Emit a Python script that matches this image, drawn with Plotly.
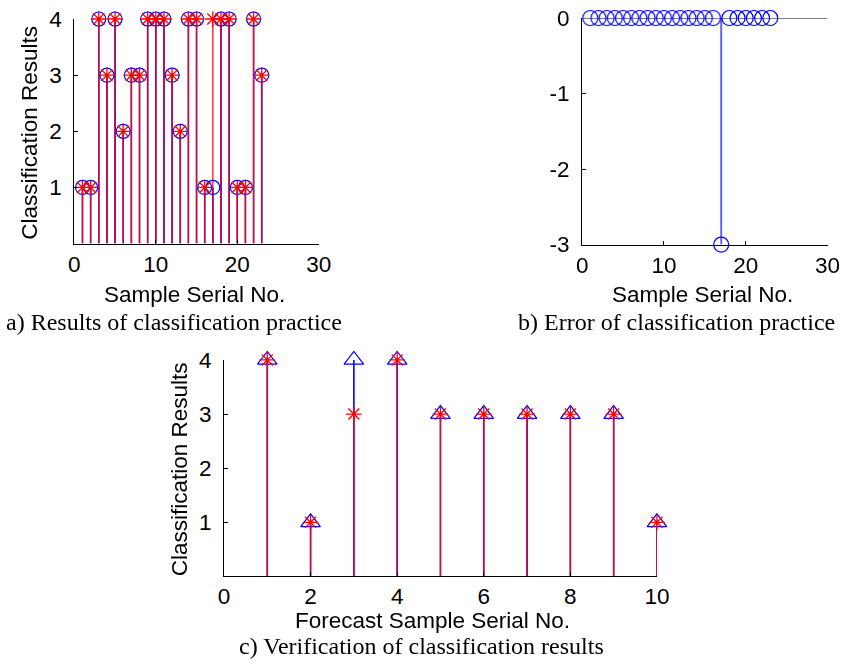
import plotly.graph_objects as go

# ---- data ----
train_idx = list(range(1, 24))
train_actual = [1, 1, 4, 3, 4, 2, 3, 3, 4, 4, 4, 3, 2, 4, 4, 1, 1, 4, 4, 1, 1, 4, 3]
train_pred   = [1, 1, 4, 3, 4, 2, 3, 3, 4, 4, 4, 3, 2, 4, 4, 1, 4, 4, 4, 1, 1, 4, 3]
train_error  = [a - p for a, p in zip(train_actual, train_pred)]

test_idx = list(range(1, 11))
test_actual = [4, 1, 4, 4, 3, 3, 3, 3, 3, 1]
test_pred   = [4, 1, 3, 4, 3, 3, 3, 3, 3, 1]

xticks_ab = [0, 10, 20, 30]
yticks_a = [1, 2, 3, 4]
yticks_b = [0, -1, -2, -3]
yticks_b_text = ["0", "-1", "-2", "-3"]
xticks_c = [0, 2, 4, 6, 8, 10]

BLUE = "#0000ff"
RED = "#ff0000"
TICKFONT = dict(family="Liberation Sans, Arial", size=22.5, color="black")
TITLEFONT = dict(family="Liberation Sans, Arial", size=22.5, color="black")
CAPFONT = dict(family="Liberation Serif, Times New Roman", size=24, color="black")

W, H = 851, 666

# the photographed picture shows the page slightly inset; map wanted picture pixels to page pixels
SX, OX, SY, OY = 0.98, 4.5, 0.96, 12.0


def page_x(px):
    return min(max((px - OX) / SX, 0), W)


def page_y(py):
    return min(max((py - OY) / SY, 0), H)


def px_x(a, b):
    return [page_x(a) / W, page_x(b) / W]


def px_y(top, bottom):
    return [(H - page_y(bottom)) / H, (H - page_y(top)) / H]


def stems(xs, ys, base=0):
    sx, sy = [], []
    for x, y in zip(xs, ys):
        sx += [x, x, None]
        sy += [base, y, None]
    return sx, sy


fig = go.Figure()

# ---- panel a ----
sx, sy = stems(train_idx, train_actual)
fig.add_trace(go.Scatter(x=sx, y=sy, mode="lines", line=dict(color=BLUE, width=1.6),
                         xaxis="x", yaxis="y", showlegend=False, hoverinfo="skip"))
sx, sy = stems(train_idx, train_pred)
fig.add_trace(go.Scatter(x=sx, y=sy, mode="lines", line=dict(color=RED, width=1.2),
                         xaxis="x", yaxis="y", showlegend=False, hoverinfo="skip"))
fig.add_trace(go.Scatter(x=train_idx, y=train_actual, mode="markers", cliponaxis=False,
                         marker=dict(symbol="circle-open", size=14, color=BLUE, line=dict(width=1.2)),
                         xaxis="x", yaxis="y", showlegend=False))
fig.add_trace(go.Scatter(x=train_idx, y=train_pred, mode="markers", cliponaxis=False,
                         marker=dict(symbol="asterisk-open", size=13, color=RED, line=dict(width=1.3, color=RED)),
                         xaxis="x", yaxis="y", showlegend=False))

# ---- panel b ----
fig.add_trace(go.Scatter(x=[0, 30], y=[0, 0], mode="lines", line=dict(color="black", width=1),
                         xaxis="x2", yaxis="y2", showlegend=False, hoverinfo="skip"))
sx, sy = stems(train_idx, train_error)
fig.add_trace(go.Scatter(x=sx, y=sy, mode="lines", line=dict(color=BLUE, width=1.6), opacity=0.75,
                         xaxis="x2", yaxis="y2", showlegend=False, hoverinfo="skip"))
fig.add_trace(go.Scatter(x=train_idx, y=train_error, mode="markers", cliponaxis=False,
                         marker=dict(symbol="circle-open", size=15, color=BLUE, line=dict(width=1.2)),
                         xaxis="x2", yaxis="y2", showlegend=False))

# ---- panel c ----
sx, sy = stems(test_idx, test_actual)
fig.add_trace(go.Scatter(x=sx, y=sy, mode="lines", line=dict(color=BLUE, width=1.6),
                         xaxis="x3", yaxis="y3", showlegend=False, hoverinfo="skip"))
sx, sy = stems(test_idx, test_pred)
fig.add_trace(go.Scatter(x=sx, y=sy, mode="lines", line=dict(color=RED, width=1.2),
                         xaxis="x3", yaxis="y3", showlegend=False, hoverinfo="skip"))
fig.add_trace(go.Scatter(x=test_idx, y=test_actual, mode="markers", cliponaxis=False,
                         marker=dict(symbol="triangle-up-open", size=17, color=BLUE, line=dict(width=1.2)),
                         xaxis="x3", yaxis="y3", showlegend=False))
fig.add_trace(go.Scatter(x=test_idx, y=test_pred, mode="markers", cliponaxis=False,
                         marker=dict(symbol="asterisk-open", size=13, color=RED, line=dict(width=1.3, color=RED)),
                         xaxis="x3", yaxis="y3", showlegend=False))

axis_common = dict(showline=True, linecolor="black", linewidth=1, ticks="inside", ticklen=4,
                   tickcolor="black", showgrid=False, zeroline=False, tickfont=TICKFONT)
xax = dict(axis_common, ticklabelstandoff=0)
yax = dict(axis_common, ticklabelstandoff=7)

fig.update_layout(
    width=W, height=H, autosize=False,
    margin=dict(l=0, r=0, t=0, b=0),
    paper_bgcolor="white", plot_bgcolor="white",
    xaxis=dict(domain=px_x(73, 318), range=[0, 30], tickvals=xticks_ab, anchor="y", **xax),
    yaxis=dict(domain=px_y(19, 243), range=[0, 4], tickvals=yticks_a, anchor="x", **yax),
    xaxis2=dict(domain=px_x(582, 828), range=[0, 30], tickvals=xticks_ab, anchor="y2", **xax),
    yaxis2=dict(domain=px_y(18, 244), range=[-3, 0], tickvals=yticks_b,
                ticktext=yticks_b_text, anchor="x2", **yax),
    xaxis3=dict(domain=px_x(223, 657), range=[0, 10], tickvals=xticks_c, anchor="y3", **xax),
    yaxis3=dict(domain=px_y(359, 575), range=[0, 4], tickvals=yticks_a, anchor="x3", **yax),
)

# (text, wanted picture x, wanted picture y, font, extra)
annots = [
    ("Sample Serial No.", 193, 294, TITLEFONT, {}),
    ("Sample Serial No.", 703, 294, TITLEFONT, {}),
    ("Classification Results", 28, 132, TITLEFONT, dict(textangle=-90)),
    ("Classification Results", 178, 468, TITLEFONT, dict(textangle=-90)),
    ("Forecast Sample Serial No.", 432, 619, TITLEFONT, {}),
    ("a) Results of classification practice", 173, 321, CAPFONT, {}),
]
for text, ax_, ay_, font, extra in annots:
    fig.add_annotation(text=text, x=page_x(ax_) / W, y=(H - page_y(ay_)) / H, font=font,
                       xref="paper", yref="paper", showarrow=False,
                       xanchor="center", yanchor="middle", **extra)

# captions that would fall past the page edge are anchored to it
fig.add_annotation(text="b) Error of classification practice", x=850 / W, y=(H - page_y(321)) / H,
                   font=CAPFONT, xref="paper", yref="paper", showarrow=False,
                   xanchor="right", yanchor="middle")
fig.add_annotation(text="c) Verification of classification results", x=page_x(421) / W, y=(H - 658.5) / H,
                   font=CAPFONT, xref="paper", yref="paper", showarrow=False,
                   xanchor="center", yanchor="middle")

post = """
document.documentElement.style.margin='0';
document.body.style.margin='0';
document.body.style.overflow='hidden';
"""

fig.write_html("out.html", config={"displayModeBar": False}, post_script=post)
